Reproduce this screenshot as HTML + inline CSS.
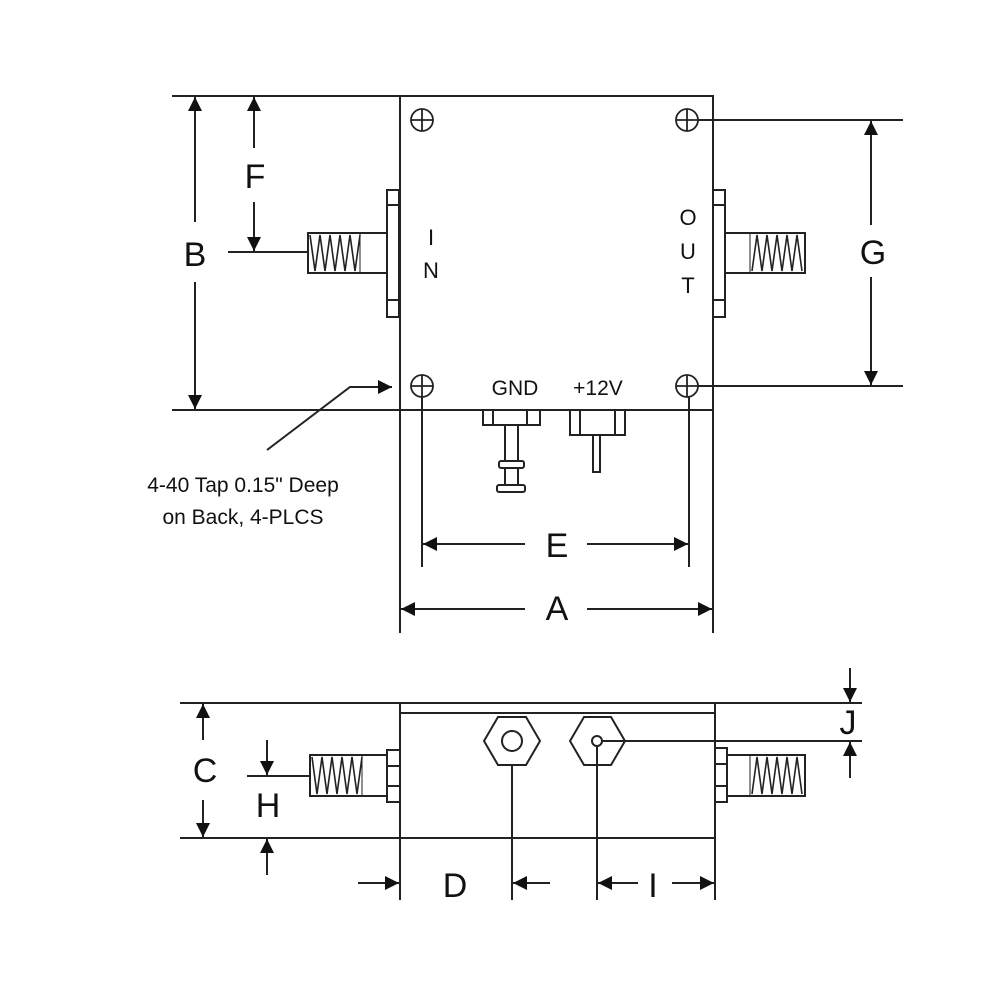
<!DOCTYPE html>
<html><head><meta charset="utf-8"><style>
html,body{margin:0;padding:0;background:#fff;}
svg{display:block;}
text{font-family:"Liberation Sans",Arial,sans-serif;fill:#111;}
</style></head><body>
<svg width="1000" height="1000" viewBox="0 0 1000 1000" xmlns="http://www.w3.org/2000/svg">
<defs>
<marker id="ah" viewBox="0 0 10 10" refX="10" refY="5" markerWidth="14" markerHeight="14" markerUnits="userSpaceOnUse" orient="auto">
<path d="M0,0 L10,5 L0,10 z" fill="#111"/>
</marker>
</defs>
<g stroke="#222" stroke-width="2" fill="none">
<!-- top view box -->
<rect x="400" y="96" width="313" height="314"/>
<line x1="172" y1="96" x2="400" y2="96"/>
<line x1="172" y1="410" x2="400" y2="410"/>
<!-- holes -->
<g stroke-width="1.8">
<circle cx="422" cy="120" r="11"/><line x1="411" y1="120" x2="433" y2="120"/><line x1="422" y1="109" x2="422" y2="131"/>
<circle cx="687" cy="120" r="11"/><line x1="676" y1="120" x2="698" y2="120"/><line x1="687" y1="109" x2="687" y2="131"/>
<circle cx="422" cy="386" r="11"/><line x1="411" y1="386" x2="433" y2="386"/><line x1="422" y1="375" x2="422" y2="397"/>
<circle cx="687" cy="386" r="11"/><line x1="676" y1="386" x2="698" y2="386"/><line x1="687" y1="375" x2="687" y2="397"/>
</g>
<!-- G -->
<line x1="698" y1="120" x2="903" y2="120"/>
<line x1="698" y1="386" x2="903" y2="386"/>
<line x1="871" y1="225" x2="871" y2="121" marker-end="url(#ah)"/>
<line x1="871" y1="277" x2="871" y2="385" marker-end="url(#ah)"/>
<!-- B -->
<line x1="195" y1="222" x2="195" y2="97" marker-end="url(#ah)"/>
<line x1="195" y1="282" x2="195" y2="409" marker-end="url(#ah)"/>
<!-- F -->
<line x1="254" y1="148" x2="254" y2="97" marker-end="url(#ah)"/>
<line x1="254" y1="202" x2="254" y2="251" marker-end="url(#ah)"/>
<line x1="228" y1="252" x2="308" y2="252"/>
<!-- IN connector -->
<rect x="387" y="190" width="12" height="127"/>
<line x1="387" y1="205" x2="399" y2="205"/><line x1="387" y1="300" x2="399" y2="300"/>
<rect x="308" y="233" width="79" height="40"/>
<polyline stroke-width="1.6" points="310,235 315,271 320,235 325,271 330,235 335,271 340,235 345,271 350,235 355,271 360,235"/>
<line x1="360" y1="233" x2="360" y2="273" stroke-width="1"/>
<!-- OUT connector -->
<rect x="713" y="190" width="12" height="127"/>
<line x1="713" y1="205" x2="725" y2="205"/><line x1="713" y1="300" x2="725" y2="300"/>
<rect x="725" y="233" width="80" height="40"/>
<polyline stroke-width="1.6" points="752,271 757,235 762,271 767,235 772,271 777,235 782,271 787,235 792,271 797,235 802,271"/>
<line x1="750" y1="233" x2="750" y2="273" stroke-width="1"/>
<!-- GND -->
<rect x="483" y="410" width="57" height="15"/>
<line x1="493" y1="410" x2="493" y2="425"/><line x1="527" y1="410" x2="527" y2="425"/>
<rect x="505" y="425" width="13" height="62"/>
<rect x="499" y="461" width="25" height="7" rx="2" fill="#fff"/>
<rect x="497" y="485" width="28" height="7" rx="2" fill="#fff"/>
<!-- +12V -->
<rect x="570" y="410" width="55" height="25"/>
<line x1="580" y1="410" x2="580" y2="435"/><line x1="615" y1="410" x2="615" y2="435"/>
<rect x="593" y="435" width="7" height="37"/>
<!-- leader -->
<polyline points="267,450 350,387 392,387" marker-end="url(#ah)"/>
<!-- E, A -->
<line x1="422" y1="397" x2="422" y2="567"/>
<line x1="689" y1="397" x2="689" y2="567"/>
<line x1="400" y1="410" x2="400" y2="633"/>
<line x1="713" y1="410" x2="713" y2="633"/>
<line x1="525" y1="544" x2="423" y2="544" marker-end="url(#ah)"/>
<line x1="587" y1="544" x2="688" y2="544" marker-end="url(#ah)"/>
<line x1="525" y1="609" x2="401" y2="609" marker-end="url(#ah)"/>
<line x1="587" y1="609" x2="712" y2="609" marker-end="url(#ah)"/>

<!-- side view -->
<line x1="180" y1="703" x2="862" y2="703"/>
<line x1="400" y1="713" x2="715" y2="713"/>
<line x1="180" y1="838" x2="715" y2="838"/>
<line x1="400" y1="703" x2="400" y2="900"/>
<line x1="715" y1="703" x2="715" y2="900"/>
<polygon points="484,741 498,717 526,717 540,741 526,765 498,765"/>
<circle cx="512" cy="741" r="10"/>
<polygon points="570,741 584,717 611,717 625,741 611,765 584,765"/>
<circle cx="597" cy="741" r="5"/>
<line x1="602" y1="741" x2="862" y2="741"/>
<line x1="512" y1="765" x2="512" y2="900"/>
<line x1="597" y1="746" x2="597" y2="900"/>
<!-- side left connector -->
<rect x="387" y="750" width="13" height="52"/>
<line x1="387" y1="766" x2="400" y2="766"/><line x1="387" y1="786" x2="400" y2="786"/>
<rect x="310" y="755" width="77" height="41"/>
<polyline stroke-width="1.6" points="312,757 317,794 322,757 327,794 332,757 337,794 342,757 347,794 352,757 357,794 362,757"/>
<line x1="362" y1="755" x2="362" y2="796" stroke-width="1"/>
<!-- side right connector -->
<rect x="715" y="748" width="12" height="54"/>
<line x1="715" y1="764" x2="727" y2="764"/><line x1="715" y1="786" x2="727" y2="786"/>
<rect x="727" y="755" width="78" height="41"/>
<polyline stroke-width="1.6" points="752,794 757,757 762,794 767,757 772,794 777,757 782,794 787,757 792,794 797,757 802,794"/>
<line x1="750" y1="755" x2="750" y2="796" stroke-width="1"/>
<!-- J -->
<line x1="850" y1="668" x2="850" y2="702" marker-end="url(#ah)"/>
<line x1="850" y1="778" x2="850" y2="742" marker-end="url(#ah)"/>
<!-- C -->
<line x1="203" y1="740" x2="203" y2="704" marker-end="url(#ah)"/>
<line x1="203" y1="800" x2="203" y2="837" marker-end="url(#ah)"/>
<!-- H -->
<line x1="247" y1="776" x2="310" y2="776"/>
<line x1="267" y1="740" x2="267" y2="775" marker-end="url(#ah)"/>
<line x1="267" y1="875" x2="267" y2="839" marker-end="url(#ah)"/>
<!-- D, I -->
<line x1="358" y1="883" x2="399" y2="883" marker-end="url(#ah)"/>
<line x1="550" y1="883" x2="513" y2="883" marker-end="url(#ah)"/>
<line x1="638" y1="883" x2="598" y2="883" marker-end="url(#ah)"/>
<line x1="672" y1="883" x2="714" y2="883" marker-end="url(#ah)"/>
</g>
<!-- labels -->
<g font-size="34" text-anchor="middle">
<text x="195" y="266">B</text>
<text x="255" y="188">F</text>
<text x="873" y="264">G</text>
<text x="557" y="557">E</text>
<text x="557" y="620">A</text>
<text x="205" y="782">C</text>
<text x="268" y="817">H</text>
<text x="455" y="897">D</text>
<text x="653" y="897">I</text>
<text x="848" y="734">J</text>
</g>
<g font-size="22" text-anchor="middle">
<text x="431" y="245">I</text>
<text x="431" y="278">N</text>
<text x="688" y="225">O</text>
<text x="688" y="259">U</text>
<text x="688" y="293">T</text>
</g>
<g font-size="21" text-anchor="middle">
<text x="515" y="395">GND</text>
<text x="598" y="395">+12V</text>
<text x="243" y="492">4-40 Tap 0.15" Deep</text>
<text x="243" y="524">on Back, 4-PLCS</text>
</g>
</svg>
</body></html>
